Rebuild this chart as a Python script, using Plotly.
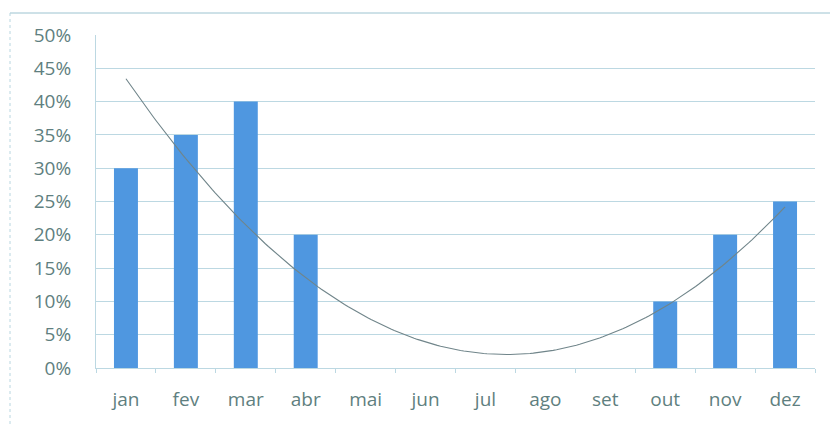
import numpy as np
import plotly.graph_objects as go

# Monthly share (fraction) per month
months = ["jan", "fev", "mar", "abr", "mai", "jun", "jul", "ago", "set", "out", "nov", "dez"]
shares = [0.30, 0.35, 0.40, 0.20, 0.0, 0.0, 0.0, 0.0, 0.0, 0.10, 0.20, 0.25]
y_ticks = [0, 0.05, 0.10, 0.15, 0.20, 0.25, 0.30, 0.35, 0.40, 0.45, 0.50]

BAR = "#4f97e0"
TEXT = "#5f7f80"
GRID = "#bcd8e2"
TREND = "#70858a"
FONT = "Open Sans, Noto Sans, sans-serif"

# Second-order polynomial trendline fitted to the monthly shares
idx = np.arange(len(months))
coef = np.polyfit(idx, shares, 2)
tx = np.linspace(idx[0], idx[-1], 200)
ty = np.polyval(coef, tx)

PLOT_W = 830 - 96 - 15
PLOT_H = 426 - 35 - 58

fig = go.Figure()
fig.add_trace(go.Bar(x=months, y=shares, marker=dict(color=BAR, line=dict(width=0)),
                     showlegend=False, hoverinfo="skip"))
fig.add_trace(go.Scatter(x=tx, y=ty, xaxis="x2", mode="lines",
                         line=dict(color=TREND, width=1.1), showlegend=False,
                         hoverinfo="skip"))

fig.update_layout(
    width=830, height=426,
    margin=dict(l=96, r=15, t=35, b=58),
    paper_bgcolor="white", plot_bgcolor="white",
    bargap=0.6,
    font=dict(family=FONT, size=19, color=TEXT),
    xaxis=dict(type="category", range=[-0.5, 11.5], showgrid=False,
               showline=True, linecolor=GRID, linewidth=1,
               ticks="outside", tickson="boundaries", ticklen=4, tickcolor=GRID,
               ticklabelstandoff=14, tickfont=dict(size=19, color=TEXT)),
    xaxis2=dict(overlaying="x", range=[-0.5, 11.5], visible=False),
    yaxis=dict(range=[0, 0.5], tickvals=y_ticks, tickformat=".0%",
               showgrid=True, gridcolor=GRID, gridwidth=1, zeroline=False,
               showline=True, linecolor=GRID, linewidth=1,
               ticks="", ticklabelstandoff=20, tickfont=dict(size=19, color=TEXT)),
    shapes=[
        # outer chart frame (top and left edges)
        dict(type="line", xref="paper", yref="paper",
             x0=-86 / PLOT_W, x1=1.05, y0=1 + 22 / PLOT_H, y1=1 + 22 / PLOT_H,
             line=dict(color="#9cc3d0", width=1)),
        dict(type="line", xref="paper", yref="paper",
             x0=-86 / PLOT_W, x1=-86 / PLOT_W, y0=1 + 22 / PLOT_H, y1=-0.2,
             line=dict(color="#b8d6e0", width=1, dash="dot")),
    ],
)

fig.write_html("out.html")
